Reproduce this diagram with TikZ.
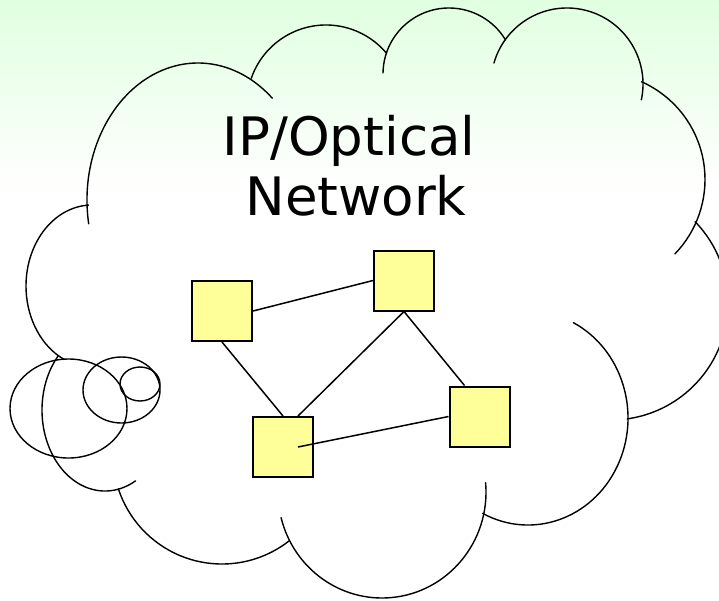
\documentclass[tikz,border=0pt]{standalone}
\usepackage{fontspec}
\newfontfamily\labelfont{DejaVu Sans}
\definecolor{bgtop}{RGB}{224,255,224}
\definecolor{boxfill}{RGB}{255,255,153}
\begin{document}
\begin{tikzpicture}[x=1pt,y=-1pt,
  cloudline/.style={draw=black, line width=1.4pt, line cap=round},
  router/.style={draw=black, line width=2pt, fill=boxfill, minimum size=60pt, inner sep=0pt},
  link/.style={draw=black, line width=1.5pt},
  title/.style={font=\labelfont\fontsize{53}{60}\selectfont, inner sep=0pt, anchor=base}]
% page and background wash
\useasboundingbox (0,0) rectangle (719,600);
\fill[white] (0,0) rectangle (719,600);
\shade[top color=bgtop, bottom color=white] (0,0) rectangle (719,190);

% cloud outline: one elliptical arc per lobe (y axis points down)
\draw[cloudline] (198,200)   ++(170:111 and 137) arc[start angle=170, end angle=312, x radius=111, y radius=137];
\draw[cloudline] (326,104)   ++(199:79 and 79)   arc[start angle=199, end angle=320, x radius=79,  y radius=79];
\draw[cloudline] (449,74)    ++(181:66 and 66)   arc[start angle=181, end angle=329, x radius=66,  y radius=66];
\draw[cloudline] (567,84)    ++(196:76 and 76)   arc[start angle=196, end angle=372, x radius=76,  y radius=76];
\draw[cloudline] (598,179.5) ++(294:107 and 107) arc[start angle=294, end angle=404, x radius=107, y radius=107];
\draw[cloudline] (611,303)   ++(-44:117 and 117) arc[start angle=-44, end angle=82,  x radius=117, y radius=117];
\draw[cloudline] (528,418)   ++(-63:100 and 107) arc[start angle=-63, end angle=117, x radius=100, y radius=107];
\draw[cloudline] (382,492)   ++(-5:104 and 106)  arc[start angle=-5,  end angle=166, x radius=104, y radius=106];
\draw[cloudline] (222,455)   ++(52:109 and 109)  arc[start angle=52,  end angle=162, x radius=109, y radius=109];
\draw[cloudline] (105,410)   ++(61:63 and 81)    arc[start angle=61,  end angle=222, x radius=63,  y radius=81];
\draw[cloudline] (92,286)    ++(267:66 and 81)   arc[start angle=267, end angle=115, x radius=66,  y radius=81];

% thought bubbles
\draw[cloudline] (68.5,408.5) ellipse [x radius=58.5, y radius=49.5];
\draw[cloudline] (121.5,390) ellipse [x radius=38.5, y radius=33];
\draw[cloudline] (140,384) ellipse [x radius=20, y radius=17];

% caption
\node[title] (line1) at (349,155) {IP/Optical};
\node[title] (line2) at (356,215) {Network};

% routers
\node[router] (A) at (222,311) {};
\node[router] (B) at (404,280.5) {};
\node[router] (C) at (283,447) {};
\node[router] (D) at (479.5,416.5) {};

% links
\draw[link] (A.east) -- (B.west);
\draw[link] (A.south) -- (C.north);
\draw[link] (B.south) -- ([xshift=15pt]C.north);
\draw[link] (B.south) -- ([xshift=-15pt]D.north);
\draw[link] ([xshift=15pt]C.center) -- (D.west);
\end{tikzpicture}
\end{document}
